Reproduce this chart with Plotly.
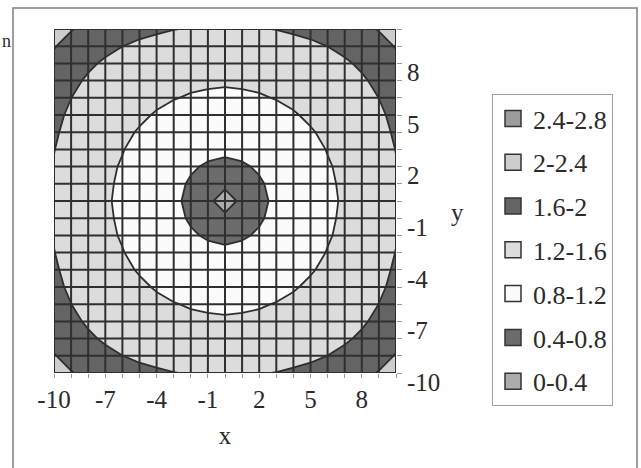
import plotly.graph_objects as go

# ---------------- data ----------------
x_vals = list(range(-10, 11))
y_vals = list(range(-10, 11))

# z values (rows: y = -10 ... 10, cols: x = -10 ... 10)
z_rows = [
    [2.12,2.02,1.90,1.78,1.69,1.652,1.631,1.606,1.585,1.578,1.575,1.578,1.585,1.606,1.631,1.652,1.69,1.78,1.90,2.02,2.12],
    [2.02,1.88,1.75,1.65,1.602,1.565,1.53,1.50,1.46,1.43,1.42,1.43,1.46,1.50,1.53,1.565,1.602,1.65,1.75,1.88,2.02],
    [1.90,1.75,1.634,1.572,1.50,1.46,1.41,1.37,1.35,1.33,1.32,1.33,1.35,1.37,1.41,1.46,1.50,1.572,1.634,1.75,1.90],
    [1.78,1.65,1.572,1.51,1.45,1.38,1.33,1.29,1.25,1.24,1.23,1.24,1.25,1.29,1.33,1.38,1.45,1.51,1.572,1.65,1.78],
    [1.69,1.602,1.50,1.45,1.37,1.30,1.25,1.21,1.18,1.16,1.15,1.16,1.18,1.21,1.25,1.30,1.37,1.45,1.50,1.602,1.69],
    [1.652,1.565,1.46,1.38,1.30,1.24,1.18,1.13,1.09,1.06,1.05,1.06,1.09,1.13,1.18,1.24,1.30,1.38,1.46,1.565,1.652],
    [1.631,1.53,1.41,1.33,1.25,1.18,1.12,1.05,1.00,0.96,0.95,0.96,1.00,1.05,1.12,1.18,1.25,1.33,1.41,1.53,1.631],
    [1.606,1.50,1.37,1.29,1.21,1.13,1.05,0.97,0.91,0.87,0.85,0.87,0.91,0.97,1.05,1.13,1.21,1.29,1.37,1.50,1.606],
    [1.585,1.46,1.35,1.25,1.18,1.09,1.00,0.91,0.83,0.77,0.74,0.77,0.83,0.91,1.00,1.09,1.18,1.25,1.35,1.46,1.585],
    [1.578,1.43,1.33,1.24,1.16,1.06,0.96,0.87,0.77,0.64,0.57,0.64,0.77,0.87,0.96,1.06,1.16,1.24,1.33,1.43,1.578],
    [1.575,1.42,1.32,1.23,1.15,1.05,0.95,0.85,0.74,0.57,0.05,0.57,0.74,0.85,0.95,1.05,1.15,1.23,1.32,1.42,1.575],
    [1.578,1.43,1.33,1.24,1.16,1.06,0.96,0.87,0.77,0.64,0.57,0.64,0.77,0.87,0.96,1.06,1.16,1.24,1.33,1.43,1.578],
    [1.585,1.46,1.35,1.25,1.18,1.09,1.00,0.91,0.83,0.77,0.74,0.77,0.83,0.91,1.00,1.09,1.18,1.25,1.35,1.46,1.585],
    [1.606,1.50,1.37,1.29,1.21,1.13,1.05,0.97,0.91,0.87,0.85,0.87,0.91,0.97,1.05,1.13,1.21,1.29,1.37,1.50,1.606],
    [1.631,1.53,1.41,1.33,1.25,1.18,1.12,1.05,1.00,0.96,0.95,0.96,1.00,1.05,1.12,1.18,1.25,1.33,1.41,1.53,1.631],
    [1.652,1.565,1.46,1.38,1.30,1.24,1.18,1.13,1.09,1.06,1.05,1.06,1.09,1.13,1.18,1.24,1.30,1.38,1.46,1.565,1.652],
    [1.69,1.602,1.50,1.45,1.37,1.30,1.25,1.21,1.18,1.16,1.15,1.16,1.18,1.21,1.25,1.30,1.37,1.45,1.50,1.602,1.69],
    [1.78,1.65,1.572,1.51,1.45,1.38,1.33,1.29,1.25,1.24,1.23,1.24,1.25,1.29,1.33,1.38,1.45,1.51,1.572,1.65,1.78],
    [1.90,1.75,1.634,1.572,1.50,1.46,1.41,1.37,1.35,1.33,1.32,1.33,1.35,1.37,1.41,1.46,1.50,1.572,1.634,1.75,1.90],
    [2.02,1.88,1.75,1.65,1.602,1.565,1.53,1.50,1.46,1.43,1.42,1.43,1.46,1.50,1.53,1.565,1.602,1.65,1.75,1.88,2.02],
    [2.12,2.02,1.90,1.78,1.69,1.652,1.631,1.606,1.585,1.578,1.575,1.578,1.585,1.606,1.631,1.652,1.69,1.78,1.90,2.02,2.12],
]

band_labels = ["0-0.4", "0.4-0.8", "0.8-1.2", "1.2-1.6", "1.6-2", "2-2.4", "2.4-2.8"]
band_edges = [0, 0.4, 0.8, 1.2, 1.6, 2.0, 2.4, 2.8]
band_colors = ["#acacac", "#6c6c6c", "#fbfbfb", "#dcdcdc", "#646464", "#cdcdcd", "#9c9c9c"]

x_ticks = [-10, -7, -4, -1, 2, 5, 8]
x_tick_text = ["-10", "-7", "-4", "-1", "2", "5", "8"]
y_ticks = [-10, -7, -4, -1, 2, 5, 8]
y_tick_text = ["-10", "-7", "-4", "-1", "2", "5", "8"]

# ---------------- figure ----------------
W, H = 641, 468
L, R, T, B = 54, 396, 29, 373   # plot-area pixel box

n = len(band_colors)
colorscale = []
for k, c in enumerate(band_colors):
    colorscale.append([k / n, c])
    colorscale.append([(k + 1) / n, c])

FONT = "Liberation Serif, Times New Roman, serif"
TXT = "#2b2b2b"

fig = go.Figure()
fig.add_trace(go.Contour(
    x=x_vals, y=y_vals, z=z_rows,
    autocontour=False,
    contours=dict(start=band_edges[0], end=band_edges[-1], size=0.4,
                  coloring="fill", showlines=True),
    line=dict(color="#2e2e2e", width=1.8, smoothing=0),
    colorscale=colorscale, showscale=False, showlegend=False, hoverinfo="skip",
))

# legend entries (top: highest band)
for lab, col in reversed(list(zip(band_labels, band_colors))):
    fig.add_trace(go.Scatter(
        x=[None], y=[None], mode="markers", name=lab, legendgroup=lab,
        marker=dict(symbol="square", size=16, color=col, line=dict(color="#333", width=1.5)),
    ))

# grid lines over the filled contours
shapes = []
for v in x_vals:
    shapes.append(dict(type="line", xref="x", yref="y", x0=v, x1=v, y0=y_vals[0], y1=y_vals[-1],
                       line=dict(color="#2f2f2f", width=2), layer="above"))
for v in y_vals:
    shapes.append(dict(type="line", xref="x", yref="y", y0=v, y1=v, x0=x_vals[0], x1=x_vals[-1],
                       line=dict(color="#2f2f2f", width=2), layer="above"))

def px2paper_x(px):
    return (px - L) / (R - L)

def px2paper_y(py):
    return (B - py) / (B - T)

# outer chart border
shapes.append(dict(type="rect", xref="paper", yref="paper",
                   x0=px2paper_x(13), x1=px2paper_x(637), y0=px2paper_y(480), y1=px2paper_y(8),
                   line=dict(color="#808080", width=1.5), fillcolor="rgba(0,0,0,0)", layer="below"))

fig.update_layout(
    width=W, height=H,
    margin=dict(l=L, r=W - R, t=T, b=H - B, autoexpand=False),
    paper_bgcolor="white", plot_bgcolor="white",
    font=dict(family=FONT, size=25, color=TXT),
    shapes=shapes,
    showlegend=True,
    legend=dict(x=px2paper_x(492), y=px2paper_y(94), xanchor="left", yanchor="top",
                bordercolor="#a0a0a0", borderwidth=1, bgcolor="white",
                font=dict(family=FONT, size=26, color=TXT),
                tracegroupgap=7, itemsizing="trace", itemwidth=30),
    xaxis=dict(range=[x_vals[0], x_vals[-1]], tickmode="array", tickvals=x_ticks, ticktext=x_tick_text,
               ticks="outside", ticklen=4, tickcolor="#9a9a9a", showgrid=False, zeroline=False,
               showline=False,
               minor=dict(tickmode="array", tickvals=x_vals, ticks="outside", ticklen=4,
                          tickcolor="#9a9a9a", showgrid=False),
               title=dict(text="x", standoff=14, font=dict(family=FONT, size=25, color=TXT))),
    yaxis=dict(range=[y_vals[0], y_vals[-1]], side="right", tickmode="array", tickvals=y_ticks,
               ticktext=y_tick_text,
               ticks="outside", ticklen=5, tickcolor="#9a9a9a", showgrid=False, zeroline=False,
               showline=False, ticklabelshift=9,
               minor=dict(tickmode="array", tickvals=y_vals, ticks="outside", ticklen=5,
                          tickcolor="#9a9a9a", showgrid=False)),
    annotations=[
        dict(text="y", xref="paper", yref="paper", x=px2paper_x(457), y=px2paper_y(212),
             showarrow=False, xanchor="center", yanchor="middle",
             font=dict(family=FONT, size=25, color=TXT)),
        dict(text="n", xref="paper", yref="paper", x=px2paper_x(0), y=px2paper_y(41),
             showarrow=False, xanchor="left", yanchor="middle",
             font=dict(family=FONT, size=18, color=TXT)),
    ],
)

fig.write_html("out.html", config={"displayModeBar": False},
               post_script="document.body.style.margin='0';")
